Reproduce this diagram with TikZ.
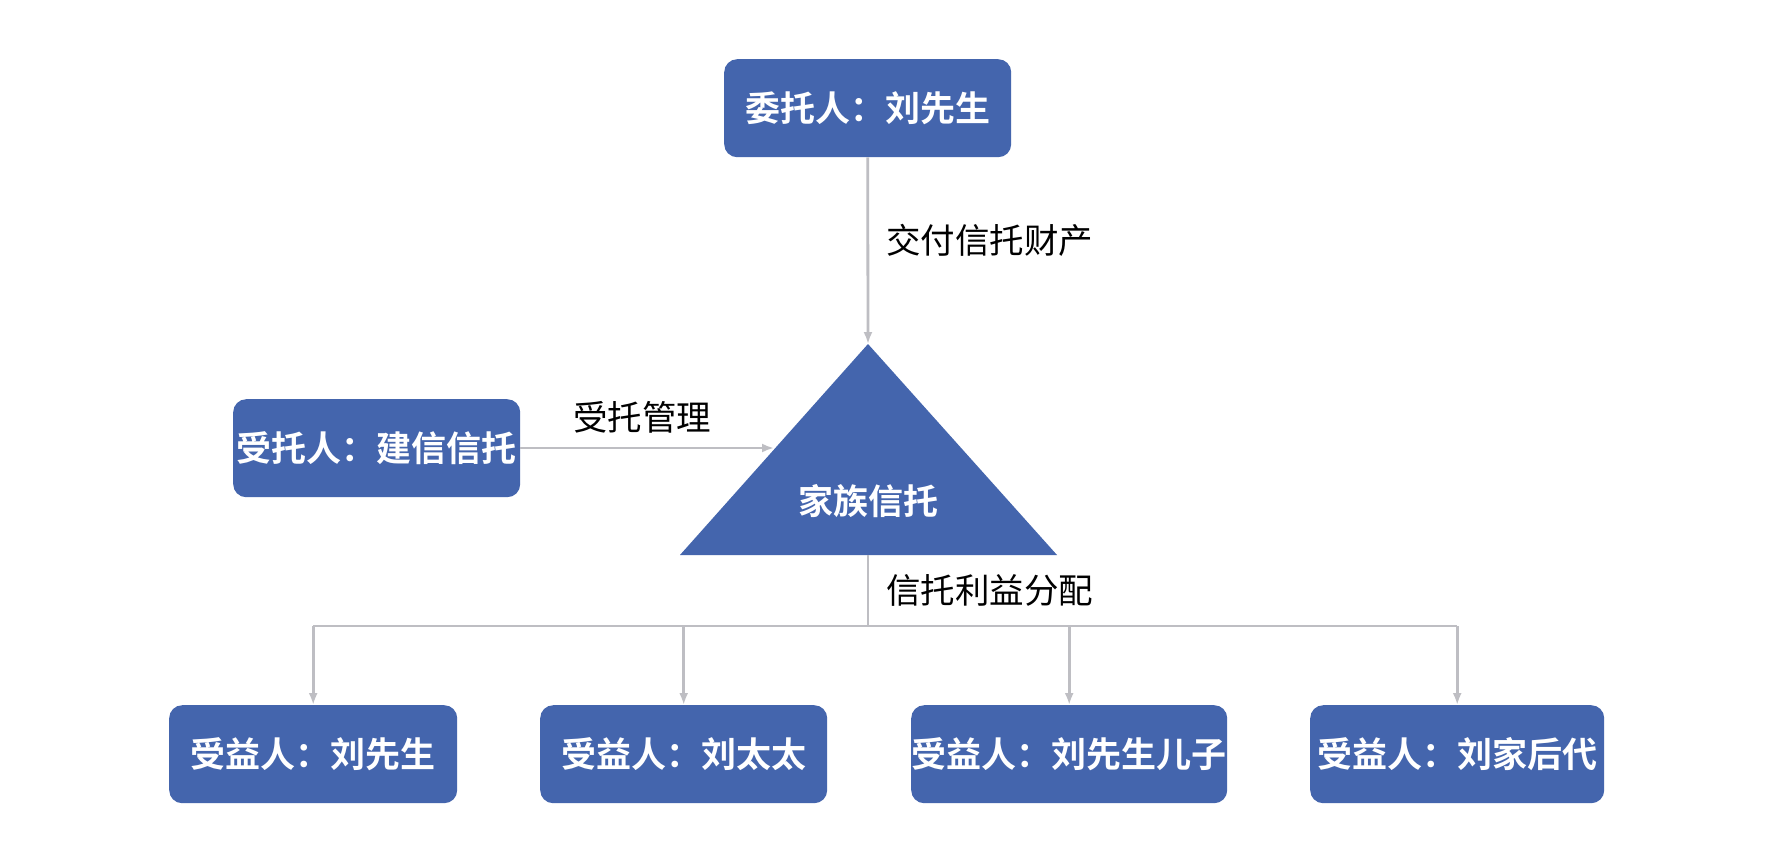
\documentclass[tikz,border=0pt]{standalone}
\usepackage{fontspec}
\newfontfamily\cjk{Noto Sans CJK SC}
\newfontfamily\cjkb{Noto Sans CJK SC Bold}
\usetikzlibrary{arrows.meta}
\definecolor{boxblue}{RGB}{68,101,173}
\definecolor{linegray}{RGB}{190,190,195}
\tikzset{
  boxnode/.style={fill=boxblue, rounded corners=13pt, text=white, font=\cjkb\fontsize{35}{38}\selectfont, inner sep=0pt, anchor=north west},
  lbl/.style={font=\cjk\fontsize{34.5}{38}\selectfont, text=black, anchor=west, inner sep=0pt},
  conn/.style={draw=linegray, line width=2.8pt},
  arr/.style={conn, -{Latex[length=12pt,width=9pt]}},
}
\begin{document}
\begin{tikzpicture}[x=1pt,y=-1pt]
\useasboundingbox (0,0) rectangle (1786,863);
\fill[white] (0,0) rectangle (1786,863);
% boxes
\node[boxnode, minimum width=287pt, minimum height=98pt] (settlor) at (724,59) {委托人：刘先生};
\node[boxnode, minimum width=287pt, minimum height=98pt] (trustee) at (233,399) {受托人：建信信托};
\node[boxnode, minimum width=288pt, minimum height=98pt] (b1) at (169,705) {受益人：刘先生};
\node[boxnode, minimum width=287pt, minimum height=98pt] (b2) at (540,705) {受益人：刘太太};
\node[boxnode, minimum width=316pt, minimum height=98pt] (b3) at (911,705) {受益人：刘先生儿子};
\node[boxnode, minimum width=294pt, minimum height=98pt] (b4) at (1310,705) {受益人：刘家后代};
% triangle
\coordinate (apex) at (868,344);
\coordinate (base) at (868,555);
\coordinate (tleft) at (774,448);
\fill[boxblue] (apex) -- (1057,555) -- (680,555) -- cycle;
\node[font=\cjkb\fontsize{35}{38}\selectfont, text=white, inner sep=0pt] (ft) at (868,501) {家族信托};
% connectors
\draw[arr] (settlor.south) -- (apex);
\draw[arr] (trustee.east |- tleft) -- (tleft);
\coordinate (hub) at (868,626);
\coordinate (hl) at (b1.north |- hub);
\coordinate (hr) at (b4.north |- hub);
\draw[conn] (base) -- (hub);
\draw[conn] (hl) -- (hr);
\draw[arr] (hl) -- (b1.north);
\draw[arr] (b2.north |- hub) -- (b2.north);
\draw[arr] (b3.north |- hub) -- (b3.north);
\draw[arr] (hr) -- (b4.north);
% labels
\node[lbl] (l1) at (886,240) {交付信托财产};
\node[lbl] (l2) at (573,417) {受托管理};
\node[lbl] (l3) at (886,590) {信托利益分配};
\end{tikzpicture}
\end{document}
